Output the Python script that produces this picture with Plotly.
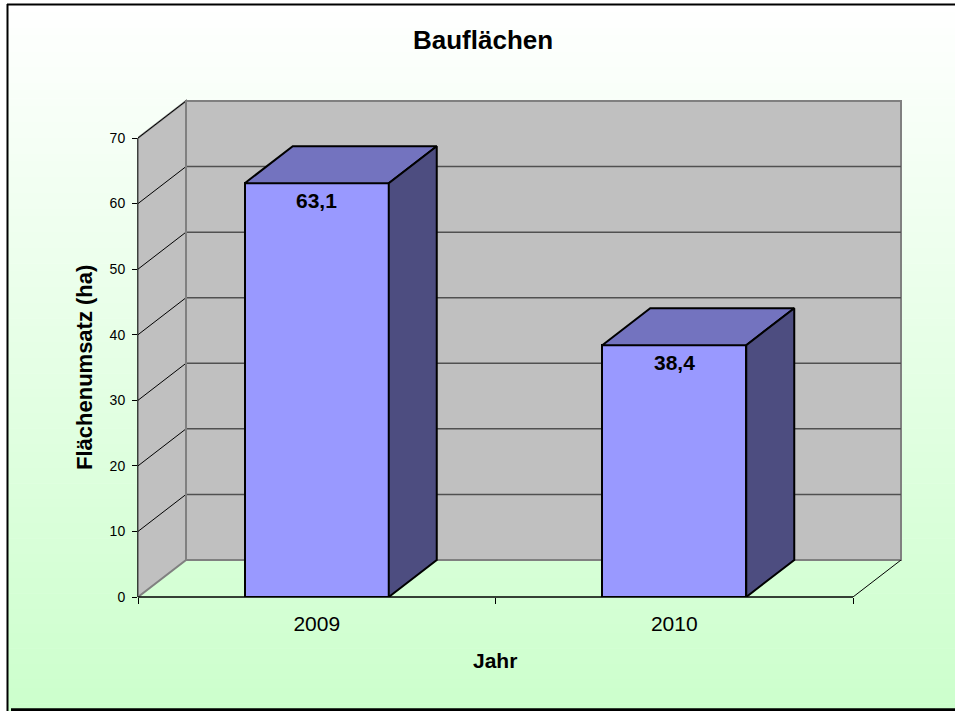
import plotly.graph_objects as go

# ---------------- data ----------------
categories = ["2009", "2010"]
values = [63.1, 38.4]
y_ticks = [0, 10, 20, 30, 40, 50, 60, 70]
title_text = "Bauflächen"
x_title = "Jahr"
y_title = "Flächenumsatz (ha)"

# ---------------- layout geometry ----------------
W, H = 955, 711
L, R, T, B = 138, 40, 90, 114
PW, PH = W - L - R, H - T - B
PX_PER_CAT = 357.5
PX_PER_VAL = 6.557
X0 = -0.5
X1 = X0 + PW / PX_PER_CAT
Y0 = 0.0
Y1 = PH / PX_PER_VAL
Y_MAX = 70
DX = 48 / PX_PER_CAT      # depth offset (category units)
DY = 37 / PX_PER_VAL      # depth offset (value units)
BAR_W = 144 / PX_PER_CAT
N = len(categories)
XL, XR = -0.5, N - 0.5

FONT = "Arial, Liberation Sans, sans-serif"

FRONT = "#9999FF"
TOP = "#7373BF"
SIDE = "#4D4D80"
WALL = "#C0C0C0"
WALL_EDGE = "#808080"


def px2paper_x(px):
    return (px - L) / PW


def py2paper_y(py):
    return (H - B - py) / PH


shapes = []

# background gradient (white -> light green)
NS = 90
top_py, bot_py = 4, H
for i in range(NS):
    a = top_py + (bot_py - top_py) * i / NS
    b = top_py + (bot_py - top_py) * (i + 1) / NS
    t = (i + 0.5) / NS
    r = round(255 + (204 - 255) * t)
    col = f"rgb({r},255,{r})"
    shapes.append(dict(type="rect", xref="paper", yref="paper",
                       x0=px2paper_x(7), x1=px2paper_x(W),
                       y0=py2paper_y(b + 0.6), y1=py2paper_y(a),
                       fillcolor=col, line=dict(width=0), layer="below"))

# border lines
shapes.append(dict(type="line", xref="paper", yref="paper",
                   x0=px2paper_x(7), x1=px2paper_x(W),
                   y0=py2paper_y(4.5), y1=py2paper_y(4.5),
                   line=dict(color="black", width=2), layer="below"))
shapes.append(dict(type="line", xref="paper", yref="paper",
                   x0=px2paper_x(7.5), x1=px2paper_x(7.5),
                   y0=py2paper_y(4), y1=py2paper_y(H),
                   line=dict(color="black", width=2), layer="below"))
shapes.append(dict(type="line", xref="paper", yref="paper",
                   x0=px2paper_x(11), x1=px2paper_x(W),
                   y0=py2paper_y(709.8), y1=py2paper_y(709.8),
                   line=dict(color="black", width=3), layer="below"))

# back wall
shapes.append(dict(type="rect", xref="x", yref="y",
                   x0=XL + DX, x1=XR + DX, y0=DY, y1=Y_MAX + DY,
                   fillcolor=WALL, line=dict(color=WALL_EDGE, width=2),
                   layer="below"))
# side wall
shapes.append(dict(type="path", xref="x", yref="y",
                   path=f"M{XL},{0} L{XL},{Y_MAX} L{XL + DX},{Y_MAX + DY} L{XL + DX},{DY} Z",
                   fillcolor=WALL, line=dict(color=WALL_EDGE, width=2),
                   layer="below"))
# gridlines on back wall and side wall
for v in y_ticks[1:-1]:
    shapes.append(dict(type="line", xref="x", yref="y",
                       x0=XL + DX, x1=XR + DX, y0=v + DY, y1=v + DY,
                       line=dict(color="#505050", width=1.5), layer="below"))
for v in y_ticks[1:]:
    shapes.append(dict(type="line", xref="x", yref="y",
                       x0=XL, x1=XL + DX, y0=v, y1=v + DY,
                       line=dict(color="black", width=1), layer="below"))
# wall vertical edge (back-left corner)
shapes.append(dict(type="line", xref="x", yref="y",
                   x0=XL + DX, x1=XL + DX, y0=DY, y1=Y_MAX + DY,
                   line=dict(color=WALL_EDGE, width=2), layer="below"))
# floor right edge
shapes.append(dict(type="line", xref="x", yref="y",
                   x0=XR, x1=XR + DX, y0=0, y1=DY,
                   line=dict(color="black", width=1), layer="below"))
# axis lines
shapes.append(dict(type="line", xref="x", yref="paper",
                   x0=XL, x1=XR, y0=0, y1=0,
                   line=dict(color="black", width=1.5), layer="above"))
shapes.append(dict(type="line", xref="paper", yref="y",
                   x0=0, x1=0, y0=0, y1=Y_MAX,
                   line=dict(color="black", width=1.5), layer="below"))

fig = go.Figure()

xs = list(range(N))
# front faces
fig.add_trace(go.Bar(x=xs, y=values, width=BAR_W,
                     marker=dict(color=FRONT, line=dict(color="black", width=2)),
                     hoverinfo="skip", showlegend=False))

# top and side faces
for x, v in zip(xs, values):
    xl, xr = x - BAR_W / 2, x + BAR_W / 2
    fig.add_trace(go.Scatter(
        x=[xl, xr, xr + DX, xl + DX, xl], y=[v, v, v + DY, v + DY, v],
        mode="lines", fill="toself", fillcolor=TOP,
        line=dict(color="black", width=2), hoverinfo="skip", showlegend=False))
    fig.add_trace(go.Scatter(
        x=[xr, xr + DX, xr + DX, xr, xr], y=[0, DY, v + DY, v, 0],
        mode="lines", fill="toself", fillcolor=SIDE,
        line=dict(color="black", width=2), hoverinfo="skip", showlegend=False))

annotations = []
for x, v in zip(xs, values):
    annotations.append(dict(x=x, y=v, xref="x", yref="y", yanchor="top",
                            yshift=-4, showarrow=False,
                            text=f"{v:.1f}".replace(".", ","),
                            font=dict(family=FONT, size=21, color="black",
                                      weight="bold")))
annotations.append(dict(x=px2paper_x(483), y=py2paper_y(40), xref="paper",
                        yref="paper", showarrow=False, text=title_text,
                        xanchor="center", yanchor="middle",
                        font=dict(family=FONT, size=26, color="black",
                                  weight="bold")))
annotations.append(dict(x=px2paper_x(495), y=py2paper_y(660), xref="paper",
                        yref="paper", showarrow=False, text=x_title,
                        xanchor="center", yanchor="middle",
                        font=dict(family=FONT, size=21, color="black",
                                  weight="bold")))
annotations.append(dict(x=px2paper_x(84), y=py2paper_y(368), xref="paper",
                        yref="paper", showarrow=False, text=y_title,
                        textangle=-90, xanchor="center", yanchor="middle",
                        font=dict(family=FONT, size=22, color="black",
                                  weight="bold")))

fig.update_layout(
    width=W, height=H,
    margin=dict(l=L, r=R, t=T, b=B, pad=0),
    paper_bgcolor="white",
    plot_bgcolor="rgba(0,0,0,0)",
    shapes=shapes,
    annotations=annotations,
    showlegend=False,
    bargap=0,
    xaxis=dict(range=[X0, X1], tickvals=xs, ticktext=categories,
               ticks="", showgrid=False, zeroline=False, showline=False,
               tickfont=dict(family=FONT, size=21, color="black"),
               ticklabelstandoff=12,
               minor=dict(tickvals=[XL + i for i in range(N + 1)],
                          ticks="outside", ticklen=6, tickcolor="black",
                          tickwidth=1, showgrid=False),
               fixedrange=True),
    yaxis=dict(range=[Y0, Y1], tickvals=y_ticks,
               ticktext=[str(t) for t in y_ticks],
               ticks="outside", ticklen=5, tickcolor="black", tickwidth=1,
               showgrid=False, zeroline=False, showline=False,
               tickfont=dict(family=FONT, size=14, color="black"),
               ticklabelstandoff=4,
               fixedrange=True),
)

fig.write_html("out.html",
               config={"displayModeBar": False},
               post_script="document.body.style.margin='0';"
                           "document.body.style.overflow='hidden';"
                           "document.documentElement.style.overflow='hidden';")
